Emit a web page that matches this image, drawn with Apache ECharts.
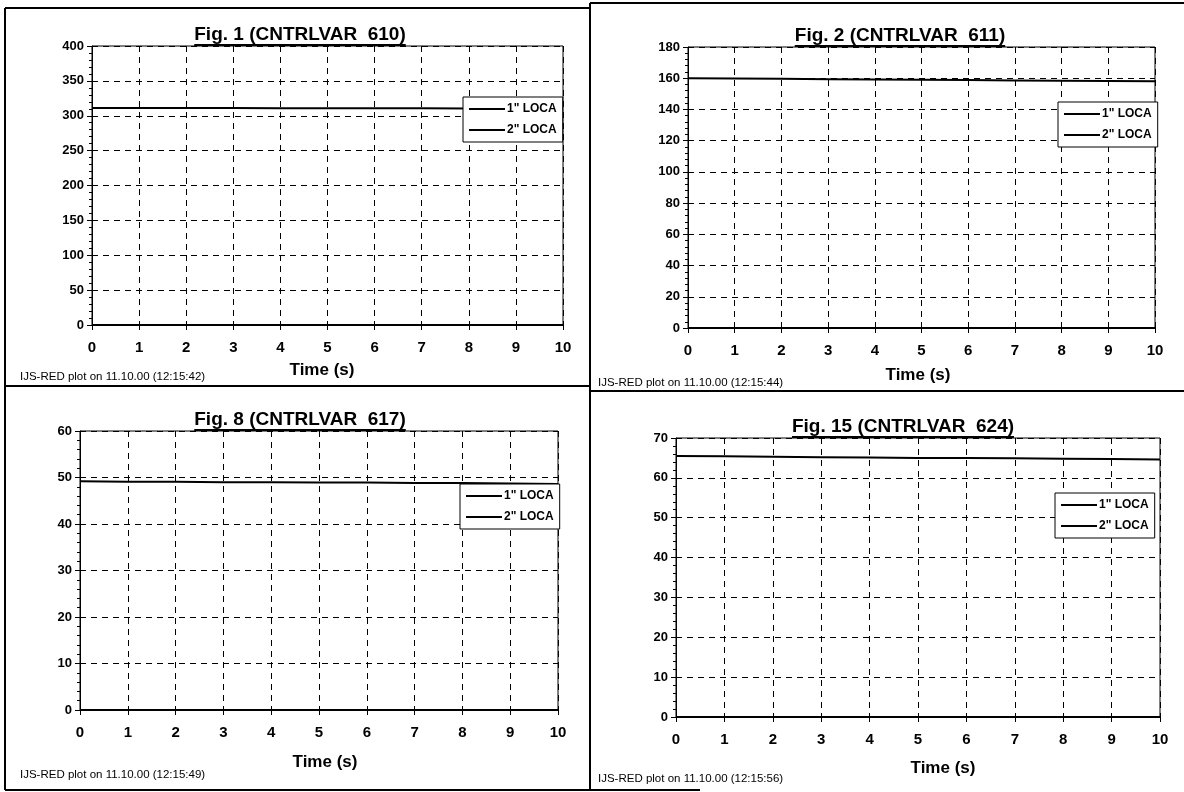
<!DOCTYPE html>
<html><head><meta charset="utf-8">
<script src="https://cdn.jsdelivr.net/npm/echarts@6/dist/echarts.min.js"></script>
<style>html,body{margin:0;padding:0;background:#fff}#c{width:1184px;height:792px}</style>
</head><body><div id="c"></div>
<script>
// ---------------- data ----------------
const time = [0, 1, 2, 3, 4, 5, 6, 7, 8, 9, 10];
const seriesNames = ['1" LOCA', '2" LOCA'];
const titles = ['Fig. 1 (CNTRLVAR  610)', 'Fig. 2 (CNTRLVAR  611)', 'Fig. 8 (CNTRLVAR  617)', 'Fig. 15 (CNTRLVAR  624)'];
const footnotes = ['IJS-RED plot on 11.10.00 (12:15:42)', 'IJS-RED plot on 11.10.00 (12:15:44)', 'IJS-RED plot on 11.10.00 (12:15:49)', 'IJS-RED plot on 11.10.00 (12:15:56)'];
const xTitle = 'Time (s)';
const yMax = [400, 180, 60, 70];
const yStep = [50, 20, 10, 10];
const fig1Loca1 = [311, 311, 311, 311, 310.8, 310.8, 310.6, 310.6, 310.5, 310.4, 310.3];
const fig1Loca2 = [0, 0, 0, 0, 0, 0, 0, 0, 0, 0, 0];
const fig2Loca1 = [160, 159.8, 159.6, 159.4, 159.2, 159, 158.8, 158.6, 158.4, 158.2, 158];
const fig2Loca2 = [0, 0, 0, 0, 0, 0, 0, 0, 0, 0, 0];
const fig8Loca1 = [49.2, 49.1, 49.1, 49.0, 49.0, 48.9, 48.9, 48.8, 48.8, 48.7, 48.6];
const fig8Loca2 = [0, 0, 0, 0, 0, 0, 0, 0, 0, 0, 0];
const fig15Loca1 = [65.5, 65.4, 65.3, 65.2, 65.1, 65.0, 65.0, 64.9, 64.8, 64.7, 64.6];
const fig15Loca2 = [0, 0, 0, 0, 0, 0, 0, 0, 0, 0, 0];
const panelData = [[fig1Loca1, fig1Loca2], [fig2Loca1, fig2Loca2], [fig8Loca1, fig8Loca2], [fig15Loca1, fig15Loca2]];

// ---------------- layout ----------------
const FONT = '"Liberation Sans", Arial, sans-serif';
const layout = [
  {grid: {left: 92, top: 46, width: 471, height: 279}, titleX: 300, timeX: 322, timeY: 370, footX: 20, footY: 377, legend: {left: 463, top: 97}},
  {grid: {left: 688, top: 47, width: 467, height: 281}, titleX: 900, timeX: 918, timeY: 375, footX: 598, footY: 383, legend: {left: 1058, top: 102}},
  {grid: {left: 80, top: 431, width: 478, height: 279}, titleX: 300, timeX: 325, timeY: 762, footX: 20, footY: 775, legend: {left: 460, top: 484}},
  {grid: {left: 676, top: 438, width: 484, height: 279}, titleX: 903, timeX: 943, timeY: 768, footX: 598, footY: 779, legend: {left: 1055, top: 493}}
];

const measure = (() => {
  const cv = document.createElement('canvas').getContext('2d');
  return (txt, font) => { cv.font = font; return cv.measureText(txt).width; };
})();

const grids = [], xAxes = [], yAxes = [], series = [], legends = [], graphics = [];
const TITLE_SIZE = 19;

layout.forEach((L, i) => {
  grids.push(Object.assign({show: true, borderColor: '#000', borderWidth: 1, backgroundColor: 'transparent', containLabel: false, outerBoundsMode: 'none'}, L.grid));
  xAxes.push({
    gridIndex: i, type: 'value', min: 0, max: 10, interval: 1,
    axisLine: {show: true, onZero: false, lineStyle: {color: '#000', width: 1}},
    axisTick: {show: true, length: 5, lineStyle: {color: '#000'}},
    axisLabel: {margin: 15, fontSize: 15, fontWeight: 'bold', color: '#000', fontFamily: FONT},
    splitLine: {show: true, lineStyle: {color: '#000', type: [6, 5], width: 1}}
  });
  yAxes.push({
    gridIndex: i, type: 'value', min: 0, max: yMax[i], interval: yStep[i],
    axisLine: {show: true, onZero: false, lineStyle: {color: '#000', width: 1}},
    axisTick: {show: true, length: 5, lineStyle: {color: '#000'}},
    minorTick: {show: true, splitNumber: 5, length: 3, lineStyle: {color: '#000'}},
    axisLabel: {margin: 8, fontSize: 13, fontWeight: 'bold', color: '#000', fontFamily: FONT},
    splitLine: {show: true, lineStyle: {color: '#000', type: [6, 5], width: 1}}
  });
  panelData[i].forEach((arr, k) => {
    series.push({
      name: seriesNames[k], type: 'line', xAxisIndex: i, yAxisIndex: i,
      data: time.map((t, j) => [t, arr[j]]),
      showSymbol: false, symbol: 'none', animation: false,
      lineStyle: {color: '#000', width: 2}, itemStyle: {color: '#000'}, z: 3
    });
  });
  legends.push({
    left: L.legend.left, top: L.legend.top, orient: 'vertical', data: seriesNames,
    backgroundColor: '#fff', borderColor: '#000', borderWidth: 1,
    padding: [6, 6, 6, 6], itemGap: 9, itemWidth: 36, itemHeight: 2, icon: 'rect',
    selectedMode: false, z: 10,
    textStyle: {fontFamily: FONT, fontSize: 12, fontWeight: 'bold', color: '#000', padding: [0, 0, 0, -3]},
    itemStyle: {color: '#000'}
  });
  // title with underline
  const tFont = 'bold ' + TITLE_SIZE + 'px ' + FONT;
  const tw = measure(titles[i], tFont);
  const gTop = L.grid.top;
  graphics.push({type: 'text', left: L.titleX - tw / 2, top: gTop - TITLE_SIZE - 2, z: 20,
    style: {text: titles[i], font: tFont, fill: '#000'}});
  graphics.push({type: 'rect', shape: {x: L.titleX - tw / 2, y: gTop - 2, width: tw, height: 2}, z: 20, style: {fill: '#000'}});
  // axis title
  graphics.push({type: 'text', z: 20, x: L.timeX, y: L.timeY,
    style: {text: xTitle, font: 'bold 17px ' + FONT, fill: '#000', textAlign: 'center', textVerticalAlign: 'middle'}});
  // footnote
  graphics.push({type: 'text', z: 20, x: L.footX, y: L.footY,
    style: {text: footnotes[i], font: '11.5px ' + FONT, fill: '#000', textAlign: 'left', textVerticalAlign: 'middle'}});
});

// panel frames
const frameLines = [
  [5, 8, 590, 8], [590, 3, 1184, 3],
  [5, 8, 5, 790], [590, 3, 590, 790],
  [5, 386, 590, 386], [590, 391, 1184, 391],
  [5, 790, 590, 790], [590, 790, 700, 790]
];
frameLines.forEach(l => graphics.push({type: 'line', z: 20, shape: {x1: l[0], y1: l[1], x2: l[2], y2: l[3]}, style: {stroke: '#000', lineWidth: 2}}));

const chart = echarts.init(document.getElementById('c'), null, {renderer: 'canvas'});
chart.setOption({
  backgroundColor: '#fff', animation: false,
  grid: grids, xAxis: xAxes, yAxis: yAxes, series: series, legend: legends, graphic: graphics
});
</script>
</body></html>
